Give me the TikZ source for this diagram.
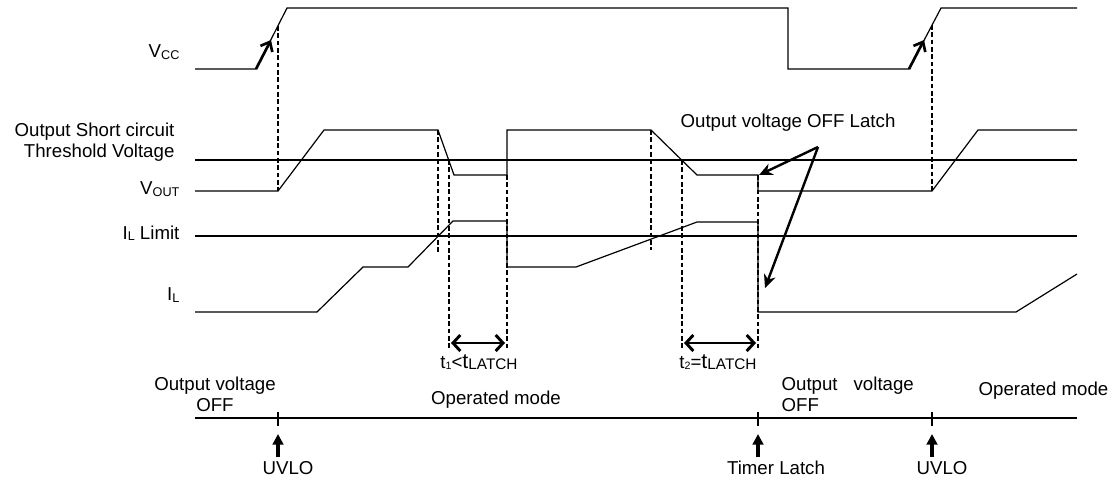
\documentclass[tikz,border=0pt]{standalone}
\usepackage{fontspec}
\setmainfont{Liberation Sans}
\usetikzlibrary{arrows.meta}
\newcommand{\lowsub}[2][9.5]{\raisebox{-1pt}{\fontsize{#1}{#1}\selectfont #2}}

\begin{document}
\begin{tikzpicture}[>=stealth,x=0.75pt,y=-0.75pt,line width=0.9pt,
  every node/.style={font=\fontsize{14}{16}\selectfont,inner sep=0pt},
  guide/.style={line width=0.8pt,dash pattern=on 3.5pt off 2pt},
  ramparrow/.style={line width=2pt,-{Straight Barb[length=6pt,width=10pt]}},
  holdtime/.style={line width=2.2pt,{Straight Barb[length=5.5pt,width=12pt]}-{Straight Barb[length=5.5pt,width=12pt]}},
  eventarrow/.style={line width=2.4pt,-{Triangle[length=8pt,width=8pt]}},
  notearrow/.style={line width=1.8pt,-{Stealth[length=10pt,width=9pt]}}]
\useasboundingbox (0,0) rectangle (1112,480);
\node[anchor=east] (vcc) at (180,52) {V\lowsub{CC}};
\node[anchor=east,align=right] (osc) at (175,142) {Output Short circuit\\Threshold Voltage};
\node[anchor=east] (vout) at (180,189) {V\lowsub{OUT}};
\node[anchor=east] (ilim) at (180,233) {I\lowsub{L} Limit};
\node[anchor=east] (il) at (180,295) {I\lowsub{L}};
\draw (195,69) -- (256,69) -- (287,8) -- (788,8) -- (788,69) -- (909,69) -- (941,8) -- (1077,8);
\draw[ramparrow] (256,69) -- (271,40);
\draw[ramparrow] (909,69) -- (924,40);
\draw (195,160) -- (1077,160);
\draw (195,191) -- (278,191) -- (324,130) -- (438,130) -- (454,175) -- (507,175) -- (507,130)
  -- (651,130) -- (697,175) -- (758,175) -- (758,191) -- (932,191) -- (978,130) -- (1077,130);
\draw (195,236) -- (1077,236);
\draw (195,312) -- (317,312) -- (363,267) -- (408,267) -- (453,221) -- (507,221) -- (507,267)
  -- (576,267) -- (697,222) -- (758,222) -- (758,312) -- (1016,312) -- (1077,274);
\draw[guide] (278,26) -- (278,191);
\draw[guide] (932,25) -- (932,191);
\draw[guide] (438,130) -- (438,252);
\draw[guide] (651,130) -- (651,250);
\foreach \x/\y in {449/160,507/175,682/160,758/175}
  \draw[guide] (\x,\y) -- (\x,348);
\draw[holdtime] (451,343) -- (505,343);
\draw[holdtime] (684,343) -- (756,343);
\node (t1) at (479,362) {t\lowsub[8]{1}<{\fontsize{16}{16}\selectfont t}\lowsub[11.5]{LATCH}};
\node (t2) at (718,362) {t\lowsub[8]{2}={\fontsize{16}{16}\selectfont t}\lowsub[11.5]{LATCH}};
\node (latch) at (788,123) {Output voltage OFF Latch};
\coordinate (lt) at (818,147);
\draw[notearrow] (lt) -- (759,175);
\draw[notearrow] (lt) -- (765,288);
\draw (195,418) -- (1077,418);
\foreach \x/\n in {278/uv1,758/tl,932/uv2} {
  \coordinate (\n) at (\x,418);
  \draw (\x,412) -- (\x,426);
  \draw[eventarrow] (\x,457) -- (\x,434);
}
\node[align=left] (off1) at (215,394) {Output voltage\\\hspace*{31.5pt}OFF};
\node (op1) at (496,400) {Operated mode};
\node[align=left,anchor=west] (off2) at (781,394) {Output\hspace{12pt}voltage\\OFF};
\node[anchor=west] (op2) at (978,391) {Operated mode};
\node (uvlo1) at (288,468) {UVLO};
\node (timer) at (776,468) {Timer Latch};
\node (uvlo2) at (942,468) {UVLO};
\end{tikzpicture}
\end{document}
